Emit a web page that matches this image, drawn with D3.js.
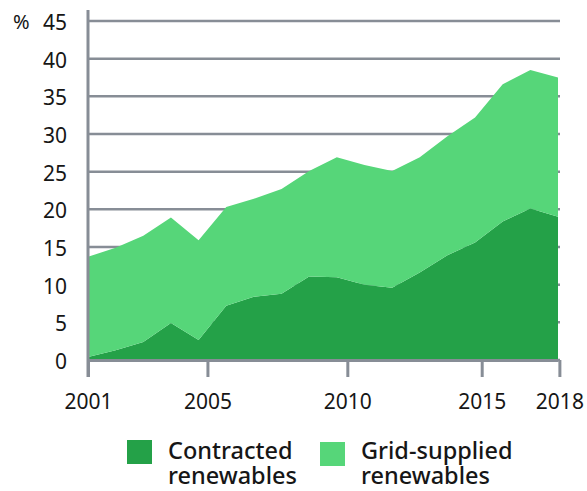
<!DOCTYPE html>
<html lang="en">
<head>
<meta charset="UTF-8">
<title>Renewables share</title>
<script src="https://d3js.org/d3.v7.min.js"></script>
<style>
  body { margin: 0; background: #fff; }
  text { font-family: "Noto Sans", "Open Sans", sans-serif; fill: #161616; }
</style>
</head>
<body>
<script>
// data (% share)
const years = d3.range(2001, 2019);
const contracted = [0.4, 1.3, 2.4, 4.9, 2.65, 7.2, 8.4, 8.8, 11.1, 11.0, 10.0, 9.6, 11.6, 13.9, 15.6, 18.4, 20.1, 19.0];
const gridSupplied = [13.3, 13.6, 14.1, 14.0, 13.25, 13.1, 13.0, 13.9, 14.0, 15.9, 15.9, 15.5, 15.3, 15.8, 16.6, 18.2, 18.4, 18.5];
const yTicks = [0, 5, 10, 15, 20, 25, 30, 35, 40, 45];
// x tick positions (in year units) and their labels
const xTickPos = [2001, 2005.32, 2010.38, 2015.24, 2018.05];
const xTickLabels = ["2001", "2005", "2010", "2015", "2018"];
const seriesNames = ["Contracted renewables", "Grid-supplied renewables"];
const colors = ["#24a148", "#56d679"];

const W = 587, H = 491;
const margin = { top: 21, right: 29, bottom: 131, left: 88 };
const width = W - margin.left - margin.right;
const height = H - margin.top - margin.bottom;

const svg = d3.select("body").append("svg")
    .attr("width", W)
    .attr("height", H);
const g = svg.append("g")
    .attr("transform", `translate(${margin.left},${margin.top})`);

const x = d3.scaleLinear().domain([2001, 2018]).range([0, width]);
const y = d3.scaleLinear().domain([0, 45]).range([height, 0]);

// gridlines
g.append("g")
    .selectAll("line")
    .data(yTicks)
    .join("line")
        .attr("x1", 0)
        .attr("x2", width + 2)
        .attr("y1", d => y(d))
        .attr("y2", d => y(d))
        .attr("stroke", "#878d96")
        .attr("stroke-width", 2.5);

// stacked areas
const rows = years.map((yr, i) => ({ year: yr, contracted: contracted[i], grid: gridSupplied[i] }));
const stacked = d3.stack().keys(["contracted", "grid"])(rows);

const area = d3.area()
    .x(d => x(d.data.year))
    .y0(d => y(d[0]))
    .y1(d => y(d[1]));

g.selectAll("path.area")
    .data(stacked)
    .join("path")
        .attr("class", "area")
        .attr("fill", (d, i) => colors[i])
        .attr("d", area);

// x axis
const xAxis = g.append("g")
    .attr("transform", `translate(0,${height})`)
    .call(d3.axisBottom(x)
        .tickValues(xTickPos)
        .tickFormat((d, i) => xTickLabels[i])
        .tickSize(17)
        .tickSizeOuter(0)
        .tickPadding(17));
xAxis.select(".domain").attr("stroke", "#878d96").attr("stroke-width", 3);
xAxis.selectAll(".tick line").attr("stroke", "#878d96").attr("stroke-width", 3);
xAxis.selectAll(".tick text").style("font-size", "21px").attr("fill", "#161616");

// y axis
const yAxis = g.append("g")
    .call(d3.axisLeft(y)
        .tickValues(yTicks)
        .tickSize(0)
        .tickPadding(21));
yAxis.select(".domain").remove();
yAxis.selectAll(".tick text")
    .style("font-size", "21px")
    .attr("dy", "0.4em")
    .attr("fill", "#161616");

g.append("line")
    .attr("x1", 0).attr("x2", 0)
    .attr("y1", -11).attr("y2", height + 17)
    .attr("stroke", "#878d96")
    .attr("stroke-width", 3);

g.append("text")
    .attr("x", -75)
    .attr("y", y(45))
    .attr("dy", "0.4em")
    .style("font-size", "20px")
    .text("%");

// legend
const legend = svg.append("g").attr("transform", "translate(127,440)");
const legendX = [0, 193];
seriesNames.forEach((name, i) => {
    const lg = legend.append("g").attr("transform", `translate(${legendX[i]},0)`);
    lg.append("rect")
        .attr("y", i * 2)
        .attr("width", 25).attr("height", 24)
        .attr("fill", colors[i]);
    const words = name.split(" ");
    words.forEach((w, j) => {
        lg.append("text")
            .attr("x", 41)
            .attr("y", 19 + j * 25)
            .style("font-size", "23.5px")
            .style("font-weight", 500)
            .text(w);
    });
});
</script>
</body>
</html>
